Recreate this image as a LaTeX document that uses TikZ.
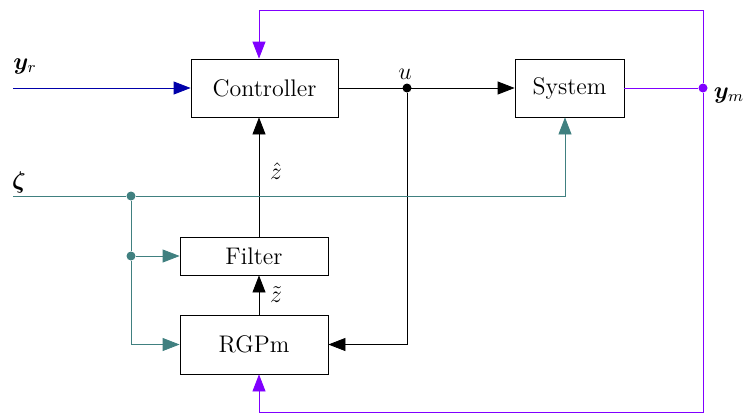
\documentclass[tikz,border=0pt]{standalone}
\usepackage{amsmath,amssymb,bm}
\usetikzlibrary{arrows.meta,calc,positioning}
\definecolor{sigblue}{RGB}{0,0,170}
\definecolor{sigteal}{RGB}{64,128,128}
\definecolor{sigviolet}{RGB}{128,0,255}

\begin{document}
\begin{tikzpicture}[x=0.5pt,y=-0.5pt,>={Triangle[length=8.5pt,width=6.5pt]},
      every node/.style={font=\large},
      block/.style={draw,inner sep=0pt,minimum height=29pt},
      dot/.style={circle,fill,inner sep=0pt,minimum size=4.5pt}]
    \useasboundingbox (0,0) rectangle (744,414);

    \node[block,minimum width=73.5pt] (ctrl) at (264.5,88) {Controller};
    \node[block,minimum width=54.5pt] (sys) at (569.5,88) {System};
    \node[block,minimum width=74pt,minimum height=19pt] (filt) at (254,256) {Filter};
    \node[block,minimum width=74pt,minimum height=29.5pt] (rgp) at (254,344.5) {RGPm};

    \coordinate (yr) at (13,88);
    \coordinate (zin) at (13,196);
    \coordinate (zx) at (259,0);
    \coordinate (ymtop) at (703,10);
    \coordinate (ymbot) at (703,412);
    \node[dot,sigteal] (zsplit) at (131,196) {};
    \node[dot,sigteal] (zfilt) at (131,256) {};
    \node[dot] (usplit) at (407,88) {};
    \node[dot,sigviolet] (ymsplit) at (703,88) {};

    \node (yrlab) at (25,66) {$\boldsymbol{y}_r$};
    \node (zetalab) at (19,182) {$\boldsymbol{\zeta}$};
    \node (ulab) at (405,74) {$u$};
    \node (ymlab) at (729,95) {$\boldsymbol{y}_m$};

    \draw[->,sigblue] (yr) -- (ctrl);
    \draw[->] (ctrl) -- (sys);
    \draw[->] (usplit) |- (rgp.east);
    \draw[->] (filt.north -| zx) -- (ctrl.south -| zx)
      node[pos=0.55,right,xshift=2pt] {$\hat{z}$};
    \draw[->] (rgp.north -| zx) -- (filt.south -| zx)
      node[midway,right,xshift=2pt] {$\tilde{z}$};

    \draw[sigteal] (zin) -- (zsplit);
    \draw[->,sigteal] (zsplit) -| ($(sys.south)+(-4.5,0)$);
    \draw[sigteal] (zsplit) -- (zfilt);
    \draw[->,sigteal] (zfilt) -- (filt.west);
    \draw[->,sigteal] (zfilt) |- (rgp.west);

    \draw[sigviolet] (sys) -- (ymsplit);
    \draw[->,sigviolet] (ymsplit) -- (ymtop) -| (ctrl.north -| zx);
    \draw[->,sigviolet] (ymsplit) -- (ymbot) -| (rgp.south -| zx);
  \end{tikzpicture}
\end{document}
